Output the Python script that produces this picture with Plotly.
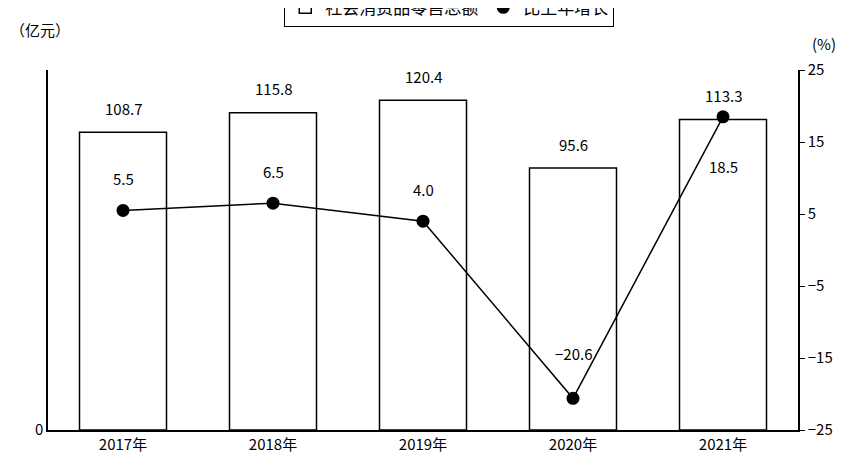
import plotly.graph_objects as go

years = ["2017年", "2018年", "2019年", "2020年", "2021年"]
sales = [108.7, 115.8, 120.4, 95.6, 113.3]
growth = [5.5, 6.5, 4.0, -20.6, 18.5]
growth_shift = [32, 32, 32, 45, -50]

fnt = dict(family="Noto Sans CJK SC, DejaVu Sans", size=15, color="black")

fig = go.Figure()
fig.add_trace(go.Bar(x=years, y=sales, name="社会消费品零售总额", width=0.58,
                     marker=dict(color="white", line=dict(color="black", width=1.5))))
fig.add_trace(go.Scatter(x=years, y=growth, name="比上年增长", yaxis="y2",
                         mode="lines+markers", line=dict(color="black", width=1.5),
                         marker=dict(color="black", size=13)))

for x, v in zip(years, sales):
    fig.add_annotation(x=x, y=v, text=f"{v:.1f}", showarrow=False, yshift=24, font=fnt)
for x, v, s in zip(years, growth, growth_shift):
    fig.add_annotation(x=x, y=v, yref="y2", text=f"{v:.1f}".replace("-", "−"),
                       showarrow=False, yshift=s, font=fnt)

fig.add_annotation(x=-0.053, y=1.0, xref="paper", yref="paper", xanchor="left", yanchor="bottom",
                   text="（亿元）", showarrow=False, font=fnt, yshift=28)
fig.add_annotation(x=1, y=1.0, xref="paper", yref="paper", xanchor="left", yanchor="bottom",
                   text="(%)", showarrow=False, font=fnt, xshift=12, yshift=14)

fig.update_layout(
    width=846, height=464, margin=dict(l=40, r=56, t=62, b=42, autoexpand=False),
    plot_bgcolor="white", paper_bgcolor="white", font=fnt, bargap=0.42,
    xaxis=dict(showline=True, linecolor="black", linewidth=1.5, ticks="outside",
               tickcolor="black", ticklen=0, mirror=False),
    yaxis=dict(range=[0, 131.4], tickvals=[0], showgrid=False, showline=True,
               linecolor="black", linewidth=1.5, zeroline=False),
    yaxis2=dict(range=[-25, 25], overlaying="y", side="right", tickvals=[-25, -15, -5, 5, 15, 25],
                ticktext=["−25", "−15", "−5", "5", "15", "25"], showgrid=False, showline=True,
                linecolor="black", linewidth=1.5, ticks="outside", ticklen=5, tickcolor="black",
                zeroline=False),
    showlegend=True,
    legend=dict(orientation="h", x=0.535, y=1.0, xanchor="center", yanchor="bottom",
                bordercolor="black", borderwidth=1, bgcolor="white",
                font=dict(family="Noto Sans CJK SC", size=17, color="black")),
)
fig.update_layout(legend_y=1.12)

fig.write_html("out.html")
